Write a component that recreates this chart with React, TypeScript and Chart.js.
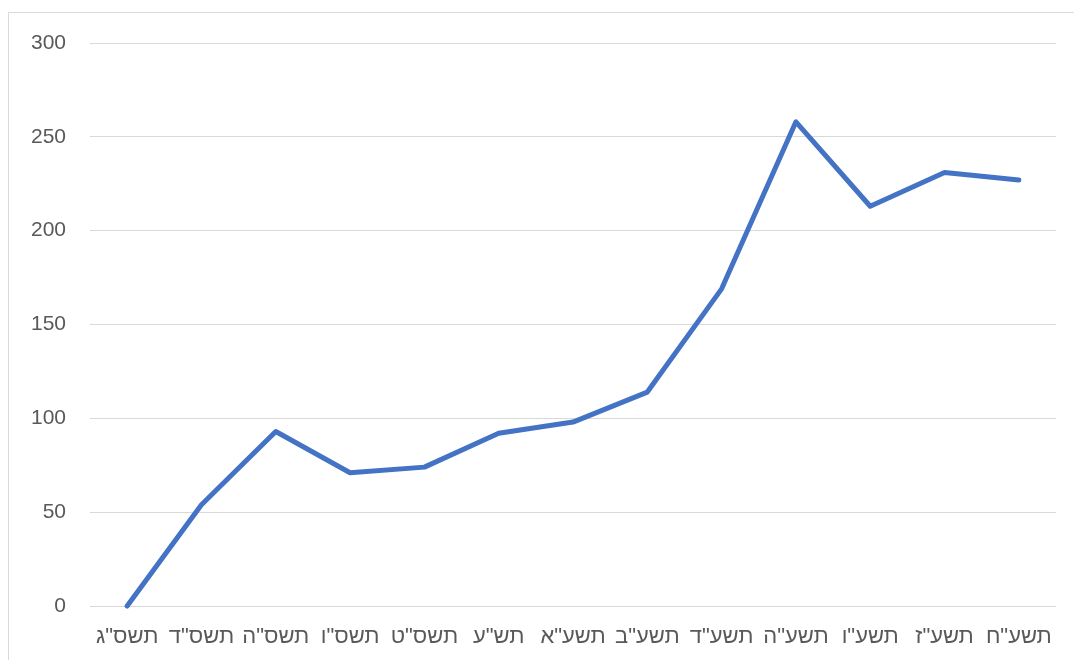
import React, { useEffect, useRef } from "react";
import { Chart, registerables } from "chart.js";

Chart.register(...registerables);

const categories: string[] = [
  'תשס"ג', 'תשס"ד', 'תשס"ה', 'תשס"ו', 'תשס"ט', 'תש"ע', 'תשע"א',
  'תשע"ב', 'תשע"ד', 'תשע"ה', 'תשע"ו', 'תשע"ז', 'תשע"ח',
];
const seriesValues: number[] = [0, 54, 93, 71, 74, 92, 98, 114, 169, 258, 213, 231, 227];
const yMin = 0;
const yMax = 300;
const yStep = 50;

export default function App() {
  const ref = useRef<HTMLCanvasElement | null>(null);

  useEffect(() => {
    document.body.style.overflow = "hidden";
    const ctx = ref.current!.getContext("2d")!;
    const yFont = { family: "'Liberation Sans', 'DejaVu Sans', sans-serif", size: 21 };
    const xFont = { family: "'Liberation Sans', 'DejaVu Sans', sans-serif", size: 22 };
    const chart = new Chart(ctx, {
      type: "line",
      data: {
        labels: categories,
        datasets: [
          {
            data: seriesValues,
            borderColor: "#4472C4",
            backgroundColor: "#4472C4",
            borderWidth: 5,
            pointRadius: 0,
            tension: 0,
            borderCapStyle: "round",
            borderJoinStyle: "round",
            clip: false,
          } as any,
        ],
      },
      options: {
        animation: false,
        responsive: false,
        devicePixelRatio: 1,
        layout: { padding: { left: 0, top: 43, right: 18, bottom: 0 } },
        plugins: { legend: { display: false }, tooltip: { enabled: false } },
        scales: {
          x: {
            offset: true,
            grid: { display: false, drawTicks: false },
            border: { display: false },
            ticks: { color: "#595959", font: xFont, padding: 18, maxRotation: 0, autoSkip: false },
            afterFit: (s: any) => { s.height = 54; },
          },
          y: {
            min: yMin,
            max: yMax,
            grid: { color: "#d9d9d9", lineWidth: 1, drawTicks: false },
            border: { display: false },
            ticks: { stepSize: yStep, color: "#595959", font: yFont, padding: 24 },
            afterFit: (s: any) => { s.width = 90; },
          },
        },
      },
    });
    return () => chart.destroy();
  }, []);

  return (
    <div style={{ position: "fixed", left: 0, top: 0, width: 1074, height: 660, overflow: "hidden", background: "#fff" }}>
      <div
        style={{
          position: "absolute",
          left: 8,
          top: 12,
          width: 1100,
          height: 700,
          border: "1px solid #d9d9d9",
          pointerEvents: "none",
        }}
      />
      <canvas ref={ref} width={1074} height={660} style={{ position: "absolute", left: 0, top: 0 }} />
    </div>
  );
}
